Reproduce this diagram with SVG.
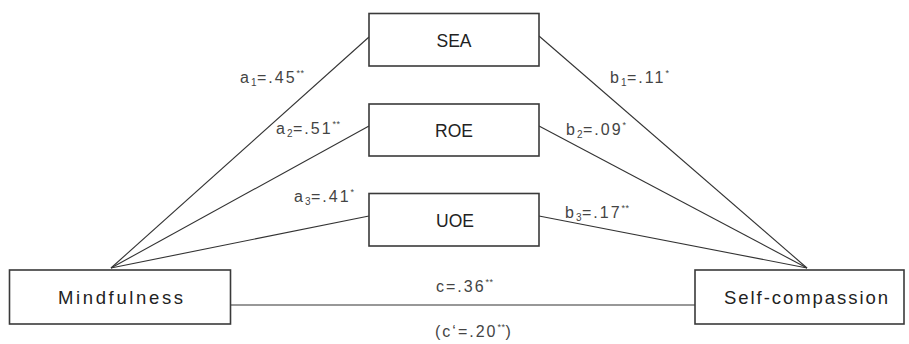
<svg xmlns="http://www.w3.org/2000/svg" width="909" height="344" viewBox="0 0 909 344">
<style>
.box{fill:#fff;stroke:#3a3a3a;stroke-width:1.6}
.node{font-family:"Liberation Sans",Arial,sans-serif;font-size:18.5px;fill:#222;text-anchor:middle}
.sm{font-size:17.5px}
.lbl{font-family:"Liberation Sans",Arial,sans-serif;font-size:16px;fill:#444;letter-spacing:2px}
.sub{font-size:10px;letter-spacing:0.5px}
.sup{font-size:9px;letter-spacing:0.5px}
.conn line{stroke:#333;stroke-width:1.1}
</style>
<rect width="909" height="344" fill="#fff"/>
<g id="connectors" class="conn">
<line x1="111" y1="268" x2="369" y2="37"/>
<line x1="111" y1="268" x2="369" y2="126"/>
<line x1="111" y1="268" x2="369" y2="216"/>
<line x1="539" y1="36" x2="807" y2="268"/>
<line x1="539" y1="126" x2="807" y2="268"/>
<line x1="539" y1="216" x2="807" y2="268"/>
<line x1="230" y1="305" x2="695" y2="305"/>
</g>
<g id="SEA"><rect class="box" x="369" y="13.5" width="170" height="52.5"/><text class="node sm" x="454" y="46.5">SEA</text></g>
<g id="ROE"><rect class="box" x="369" y="104" width="170" height="52"/><text class="node sm" x="454" y="137">ROE</text></g>
<g id="UOE"><rect class="box" x="369" y="193.5" width="170" height="52.5"/><text class="node sm" x="455" y="227">UOE</text></g>
<g id="Mindfulness"><rect class="box" x="9.5" y="270" width="221" height="54"/><text class="node" x="120.5" y="304" textLength="125" lengthAdjust="spacing">Mindfulness</text></g>
<g id="Self-compassion"><rect class="box" x="695" y="270" width="209" height="54"/><text class="node" x="806" y="304" textLength="164" lengthAdjust="spacing">Self-compassion</text></g>
<g id="labels">
<text class="lbl" x="240" y="83">a<tspan class="sub" dy="3">1</tspan><tspan dy="-3">=.45</tspan><tspan class="sup" dy="-7">**</tspan></text>
<text class="lbl" x="276" y="134">a<tspan class="sub" dy="3">2</tspan><tspan dy="-3">=.51</tspan><tspan class="sup" dy="-7">**</tspan></text>
<text class="lbl" x="294" y="202">a<tspan class="sub" dy="3">3</tspan><tspan dy="-3">=.41</tspan><tspan class="sup" dy="-7">*</tspan></text>
<text class="lbl" x="610" y="83">b<tspan class="sub" dy="3">1</tspan><tspan dy="-3">=.11</tspan><tspan class="sup" dy="-7">*</tspan></text>
<text class="lbl" x="566" y="135">b<tspan class="sub" dy="3">2</tspan><tspan dy="-3">=.09</tspan><tspan class="sup" dy="-7">*</tspan></text>
<text class="lbl" x="565" y="218">b<tspan class="sub" dy="3">3</tspan><tspan dy="-3">=.17</tspan><tspan class="sup" dy="-7">**</tspan></text>
<text class="lbl" x="436" y="292">c=.36<tspan class="sup" dy="-7">**</tspan></text>
<text class="lbl" x="435" y="337">(c‘=.20<tspan class="sup" dy="-7">**</tspan><tspan dy="7">)</tspan></text>
</g>
</svg>
